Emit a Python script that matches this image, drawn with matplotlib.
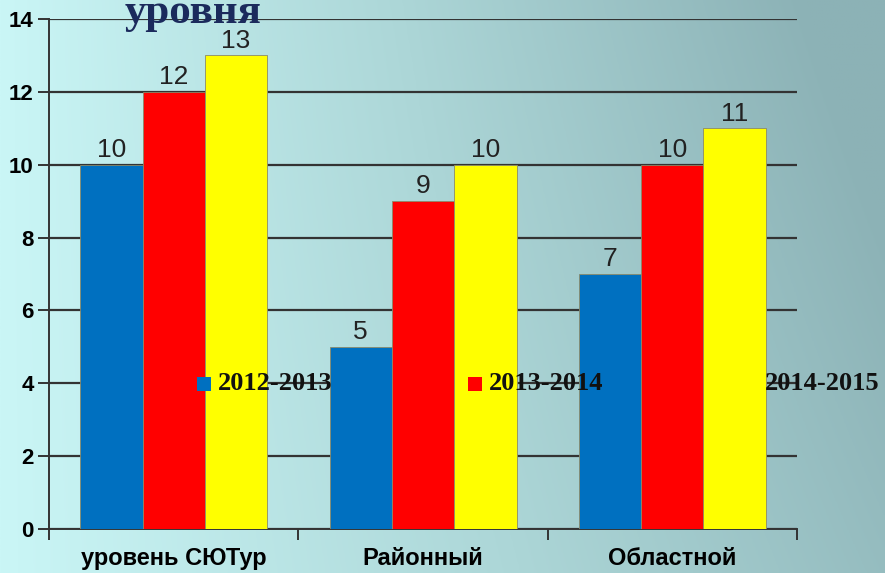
import numpy as np
import matplotlib.pyplot as plt

categories = ['уровень СЮТур', 'Районный', 'Областной']
years = ['2012-2013', '2013-2014', '2014-2015']
v_2012 = [10, 5, 7]
v_2013 = [12, 9, 10]
v_2014 = [13, 10, 11]
colors = ['#0070c0', '#ff0000', '#ffff00']

fig = plt.figure(figsize=(8.85, 5.73), dpi=100)

# background gradient (cyan on the left, grey-teal on the right)
bg = fig.add_axes([0, 0, 1, 1], zorder=-10)
xx, yy = np.meshgrid(np.linspace(0, 1, 300), np.linspace(0, 1, 200))
t = np.clip(0.85 * xx + 0.25 * (1 - yy) * xx, 0, 1)
left = np.array([202, 246, 246]) / 255
mid = np.array([172, 214, 215]) / 255
right = np.array([140, 178, 182]) / 255
img = np.where(t[..., None] < 0.5,
               left + (mid - left) * (t[..., None] / 0.5),
               mid + (right - mid) * ((t[..., None] - 0.5) / 0.5))
bg.imshow(img, aspect='auto', extent=[0, 1, 0, 1], origin='upper')
bg.axis('off')

ax = fig.add_axes([49 / 885, 1 - 529 / 573, 748 / 885, 510 / 573])
ax.set_facecolor('none')

x = np.arange(len(categories))
w = 0.25
series = [v_2012, v_2013, v_2014]
for i, vals in enumerate(series):
    bars = ax.bar(x + (i - 1) * w, vals, w, color=colors[i],
                  edgecolor='#8a8a6a', linewidth=0.6, zorder=3)
    ax.bar_label(bars, padding=2, fontsize=19, color='#222222',
                 family='Liberation Sans')

ax.set_xlim(-0.5, 2.5)
ax.set_ylim(0, 14)
ax.set_yticks(range(0, 15, 2))
ax.yaxis.grid(True, color='#333333', linewidth=1.6, zorder=0)
ax.set_axisbelow(True)
for s in ['top', 'right']:
    ax.spines[s].set_visible(False)
for s in ['left', 'bottom']:
    ax.spines[s].set_color('#333333')
    ax.spines[s].set_linewidth(1.4)

ax.set_xticks(x)
ax.set_xticklabels(categories, fontsize=17, fontweight='bold',
                   family='Liberation Sans')
ax.tick_params(axis='x', length=0, pad=13)
ax.set_xticks([-0.5, 0.5, 1.5, 2.5], minor=True)
ax.tick_params(axis='x', which='minor', length=8, width=1.4,
               color='#333333')
ax.tick_params(axis='y', length=8, width=1.4, color='#333333', pad=3,
               labelsize=16)
for lab in ax.get_yticklabels():
    lab.set_fontweight('bold')
    lab.set_family('Liberation Sans')

# legend entries placed inside the plot, on the 4 gridline
leg_x = [204, 475, 751]
for i, yr in enumerate(years):
    fx = leg_x[i] / 885
    fy = 1 - 384 / 573
    fig.add_artist(plt.Line2D([fx], [fy], marker='s', markersize=10,
                              markerfacecolor=colors[i], markeredgewidth=0,
                              linestyle='none', transform=fig.transFigure,
                              zorder=5))
    fig.text(fx + 14 / 885, fy, yr,
             fontsize=19, fontweight='bold', family='Liberation Serif',
             va='center', ha='left', zorder=6, color='#111111')

fig.text(125 / 885, 1 - 23 / 573, 'уровня', fontsize=31, fontweight='bold',
         family='Liberation Serif', color='#1b2a5c', va='baseline')

fig.savefig('out.png', dpi=100)
